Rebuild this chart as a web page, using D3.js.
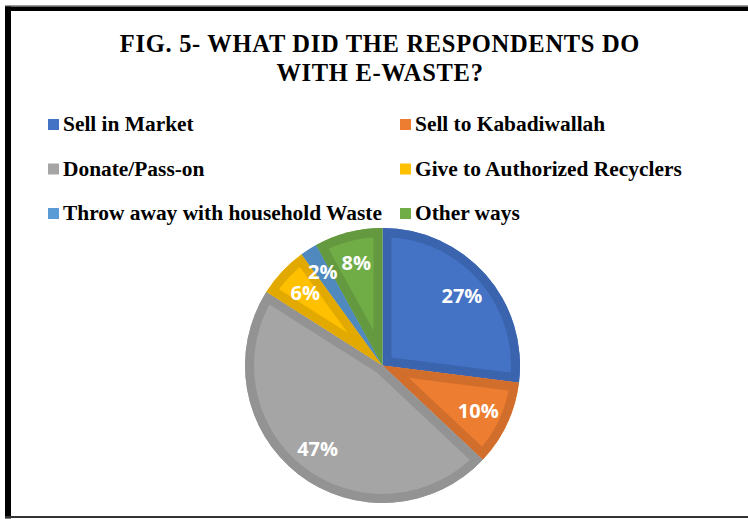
<!DOCTYPE html>
<html>
<head>
<meta charset="utf-8">
<script src="https://cdn.jsdelivr.net/npm/d3@7"></script>
<style>
  html, body { margin: 0; padding: 0; background: #fff; }
  svg { display: block; }
</style>
</head>
<body>
<svg id="chart" width="748" height="519"></svg>
<script>
// Survey responses: what people did with their e-waste
const categories = [
  "Sell in Market",
  "Sell to Kabadiwallah",
  "Donate/Pass-on",
  "Give to Authorized Recyclers",
  "Throw away with household Waste",
  "Other ways"
];
const shares = [27, 10, 47, 6, 2, 8];
const fillColors = ["#4472C4", "#ED7D31", "#A5A5A5", "#FFC000", "#5B9BD5", "#70AD47"];
const edgeColors = ["#3B64AE", "#D26E2C", "#939393", "#E2AA00", "#5089BD", "#64993F"];
const titleLines = ["FIG. 5- WHAT DID THE RESPONDENTS DO", "WITH E-WASTE?"];

const svg = d3.select("#chart");
const W = 748, H = 519;

// Frame around the chart area
svg.append("rect").attr("x", 5).attr("y", 5).attr("width", W - 5).attr("height", 1.5).attr("fill", "#9a9a9a");
svg.append("rect").attr("x", 5).attr("y", 6.5).attr("width", W - 5).attr("height", 4.5).attr("fill", "#000");
svg.append("rect").attr("x", 5).attr("y", 6.5).attr("width", 6).attr("height", 512).attr("fill", "#000");
svg.append("rect").attr("x", 5).attr("y", 516).attr("width", W - 5).attr("height", 2).attr("fill", "#333");

// Title
const title = svg.append("text")
  .attr("text-anchor", "middle")
  .attr("font-family", "'Liberation Serif', 'Times New Roman', serif")
  .attr("font-weight", "bold")
  .attr("font-size", 24.5)
  .attr("letter-spacing", 0.7)
  .attr("fill", "#000");
title.selectAll("tspan").data(titleLines).join("tspan")
  .attr("x", 380)
  .attr("y", (d, i) => 52 + i * 29)
  .text(d => d);

// Legend: two columns, three rows
const legendCol = d3.scalePoint().domain([0, 1]).range([48, 400]);
const legendRow = d3.scalePoint().domain([0, 1, 2]).range([131, 220]);
const legend = svg.append("g");
const items = legend.selectAll("g").data(categories).join("g")
  .attr("transform", (d, i) => `translate(${legendCol(i % 2)},${legendRow(Math.floor(i / 2))})`);
items.append("rect")
  .attr("x", 0).attr("y", -12).attr("width", 11).attr("height", 11)
  .attr("fill", (d, i) => fillColors[i]);
items.append("text")
  .attr("x", 15).attr("y", 0)
  .attr("font-family", "'Liberation Serif', 'Times New Roman', serif")
  .attr("font-weight", "bold")
  .attr("font-size", 21.4)
  .attr("fill", "#000")
  .text(d => d);

// Pie
const cx = 382.5, cy = 365.5, R = 137.5, edge = 9;
const pie = d3.pie().sort(null).value(d => d)(shares);
const arc = d3.arc().innerRadius(0).outerRadius(R);
// Thin slices get their label pushed a little further out
const labelRadius = d => (d.data < 5 ? 0.81 : 0.77) * R;

const g = svg.append("g").attr("transform", `translate(${cx},${cy})`);
const defs = svg.append("defs");
pie.forEach((p, i) => {
  defs.append("clipPath").attr("id", "slice-clip-" + i)
    .append("path").attr("d", arc(p));
});

const slices = g.selectAll("g.slice").data(pie).join("g").attr("class", "slice");
slices.append("path")
  .attr("d", arc)
  .attr("fill", (d, i) => fillColors[i]);
// Darker inner border of each slice: a wide stroke clipped to the slice
slices.append("path")
  .attr("d", arc)
  .attr("fill", "none")
  .attr("stroke", (d, i) => edgeColors[i])
  .attr("stroke-width", edge * 2)
  .attr("stroke-linejoin", "miter")
  .attr("clip-path", (d, i) => `url(#slice-clip-${i})`);

// Percentage labels
g.selectAll("text.pct").data(pie).join("text")
  .attr("class", "pct")
  .attr("transform", d => {
    const r = labelRadius(d);
    return `translate(${d3.arc().innerRadius(r).outerRadius(r).centroid(d)})`;
  })
  .attr("text-anchor", "middle")
  .attr("dy", "0.36em")
  .attr("font-family", "'Open Sans', 'DejaVu Sans', sans-serif")
  .attr("font-weight", "bold")
  .attr("font-size", 20)
  .attr("fill", "#fff")
  .text(d => d.data + "%");
</script>
</body>
</html>
